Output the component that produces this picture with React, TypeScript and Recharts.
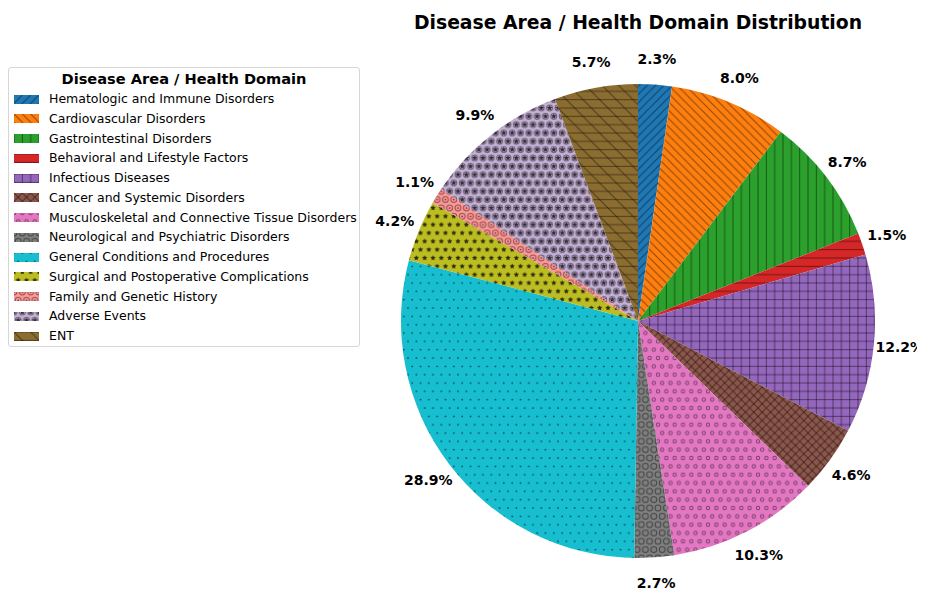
import React from "react";
import { Cell, Pie, PieChart } from "recharts";

const CATEGORIES = [
  "Hematologic and Immune Disorders",
  "Cardiovascular Disorders",
  "Gastrointestinal Disorders",
  "Behavioral and Lifestyle Factors",
  "Infectious Diseases",
  "Cancer and Systemic Disorders",
  "Musculoskeletal and Connective Tissue Disorders",
  "Neurological and Psychiatric Disorders",
  "General Conditions and Procedures",
  "Surgical and Postoperative Complications",
  "Family and Genetic History",
  "Adverse Events",
  "ENT",
];

const VALUES = [2.3, 8.0, 8.7, 1.5, 12.2, 4.6, 10.3, 2.7, 28.9, 4.2, 1.1, 9.9, 5.7];

const COLORS = [
  "#1f77b4",
  "#ff7f0e",
  "#2ca02c",
  "#d62728",
  "#9467bd",
  "#8c564b",
  "#e377c2",
  "#7f7f7f",
  "#17becf",
  "#bcbd22",
  "#ff9896",
  "#c5b0d5",
  "#8c6d31",
];

// matplotlib-style hatch strings
const HATCHES = ["//", "\\\\", "||", "--", "++", "xx", "oo", "OO", "..", "**", "OO..", "OO**", "--\\"];

const TITLE = "Disease Area / Health Domain Distribution";
const LEGEND_TITLE = "Disease Area / Health Domain";

const data = CATEGORIES.map((name, i) => ({ name, value: VALUES[i] }));

const DPI = 100;
const T = DPI / 6; // tile size
const RAD = Math.PI / 180;
const INK = { stroke: "#000", strokeOpacity: 0.45, strokeWidth: 1 };

function count(h: string, chars: string) {
  return h.split("").filter((c) => chars.includes(c)).length;
}

function starPoints(x: number, y: number, r: number) {
  const pts: string[] = [];
  for (let k = 0; k < 10; k++) {
    const rr = k % 2 === 0 ? r : r * 0.5;
    const a = (90 + k * 36) * RAD;
    pts.push(`${x + rr * Math.cos(a)},${y - rr * Math.sin(a)}`);
  }
  return pts.join(" ");
}

function shapeGrid(n: number) {
  const o = DPI / (6 * n);
  const steps = Math.round(T / o);
  const out: [number, number][] = [];
  for (let k = 0; k <= steps; k++) {
    const y = k * o;
    if (k % 2 === 0) {
      for (let j = 0; j <= steps; j++) out.push([j * o, y]);
    } else {
      for (let j = 0; j < steps; j++) out.push([o / 2 + j * o, y]);
    }
  }
  return { o, pts: out };
}

function HatchPattern({ id, color, hatch }: { id: string; color: string; hatch: string }) {
  const els: React.ReactNode[] = [];
  let key = 0;
  const lines = (n: number, kind: string) => {
    if (!n) return;
    const d = DPI / (6 * n);
    const steps = Math.round(T / d);
    for (let k = -steps; k <= 2 * steps; k++) {
      const c = k * d;
      if (kind === "h" && c >= 0 && c <= T) els.push(<line key={key++} x1={0} y1={c} x2={T} y2={c} {...INK} />);
      if (kind === "v" && c >= 0 && c <= T) els.push(<line key={key++} x1={c} y1={0} x2={c} y2={T} {...INK} />);
      if (kind === "ne") els.push(<line key={key++} x1={c} y1={T} x2={c + T} y2={0} {...INK} />);
      if (kind === "nw") els.push(<line key={key++} x1={c} y1={0} x2={c + T} y2={T} {...INK} />);
    }
  };
  lines(count(hatch, "-+"), "h");
  lines(count(hatch, "|+"), "v");
  lines(count(hatch, "/xX"), "ne");
  lines(count(hatch, "\\xX"), "nw");

  const shapes = (n: number, kind: string, size: number) => {
    if (!n) return;
    const { o, pts } = shapeGrid(n);
    const r = o * size;
    pts.forEach(([x, y]) => {
      if (kind === "ring")
        els.push(<circle key={key++} cx={x} cy={y} r={r} fill="none" {...INK} />);
      if (kind === "dot")
        els.push(<circle key={key++} cx={x} cy={y} r={r} fill="#000" fillOpacity={0.7} />);
      if (kind === "star")
        els.push(<polygon key={key++} points={starPoints(x, y, r)} fill="#000" fillOpacity={0.75} />);
    });
  };
  shapes(count(hatch, "o"), "ring", 0.2);
  shapes(count(hatch, "O"), "ring", 0.35);
  shapes(count(hatch, "."), "dot", 0.1);
  shapes(count(hatch, "*"), "star", 1 / 3);

  return (
    <pattern id={id} patternUnits="userSpaceOnUse" width={T} height={T}>
      <rect x={0} y={0} width={T} height={T} fill={color} />
      {els}
    </pattern>
  );
}

function renderLabel(props: any) {
  const { cx, cy, midAngle, outerRadius, index } = props;
  const r = outerRadius * 1.11;
  const x = cx + r * Math.cos(-midAngle * RAD);
  const y = cy + r * Math.sin(-midAngle * RAD);
  return (
    <text
      x={x}
      y={y}
      textAnchor="middle"
      dominantBaseline="central"
      fontSize={14}
      fontWeight="bold"
      fill="#000"
      fontFamily="DejaVu Sans"
    >
      {VALUES[index].toFixed(1)}%
    </text>
  );
}

export default function App() {
  return (
    <div style={{ position: "relative", width: 917, height: 584, fontFamily: "DejaVu Sans" }}>
      <style>{`html { overflow: hidden; }`}</style>
      <PieChart width={917} height={584} margin={{ top: 0, right: 0, bottom: 0, left: 0 }}>
        <defs>
          {HATCHES.map((h, i) => (
            <HatchPattern key={i} id={`hatch-${i}`} color={COLORS[i]} hatch={h} />
          ))}
        </defs>
        <Pie
          data={data}
          dataKey="value"
          nameKey="name"
          cx={630}
          cy={313}
          outerRadius={237}
          startAngle={90}
          endAngle={-270}
          label={renderLabel}
          labelLine={false}
          stroke="none"
          isAnimationActive={false}
        >
          {data.map((d, i) => (
            <Cell key={d.name} fill={`url(#hatch-${i})`} stroke="none" />
          ))}
        </Pie>
      </PieChart>
      <div
        style={{
          position: "absolute",
          left: 330,
          width: 600,
          top: 3,
          textAlign: "center",
          fontSize: 18.8,
          fontWeight: "bold",
          lineHeight: "23px",
          color: "#000",
        }}
      >
        {TITLE}
      </div>
      <div
        style={{
          position: "absolute",
          left: 0,
          top: 59,
          width: 352,
          height: 280,
          boxSizing: "border-box",
          border: "1px solid #d6d6d6",
          borderRadius: 3,
          background: "rgba(255,255,255,0.8)",
        }}
      >
        <div
          style={{
            position: "absolute",
            left: 0,
            width: 350,
            top: 1,
            textAlign: "center",
            fontSize: 14.6,
            fontWeight: "bold",
            lineHeight: "20px",
          }}
        >
          {LEGEND_TITLE}
        </div>
        {CATEGORIES.map((c, i) => (
          <div
            key={c}
            style={{
              position: "absolute",
              left: 5,
              top: 21 + i * 19.75,
              height: 20,
              display: "flex",
              alignItems: "center",
              whiteSpace: "nowrap",
            }}
          >
            <svg width={25} height={9} style={{ display: "block" }}>
              <rect x={0} y={0} width={25} height={9} fill={`url(#hatch-${i})`} />
            </svg>
            <span style={{ marginLeft: 10, fontSize: 12.5, lineHeight: "20px" }}>{c}</span>
          </div>
        ))}
      </div>
    </div>
  );
}
